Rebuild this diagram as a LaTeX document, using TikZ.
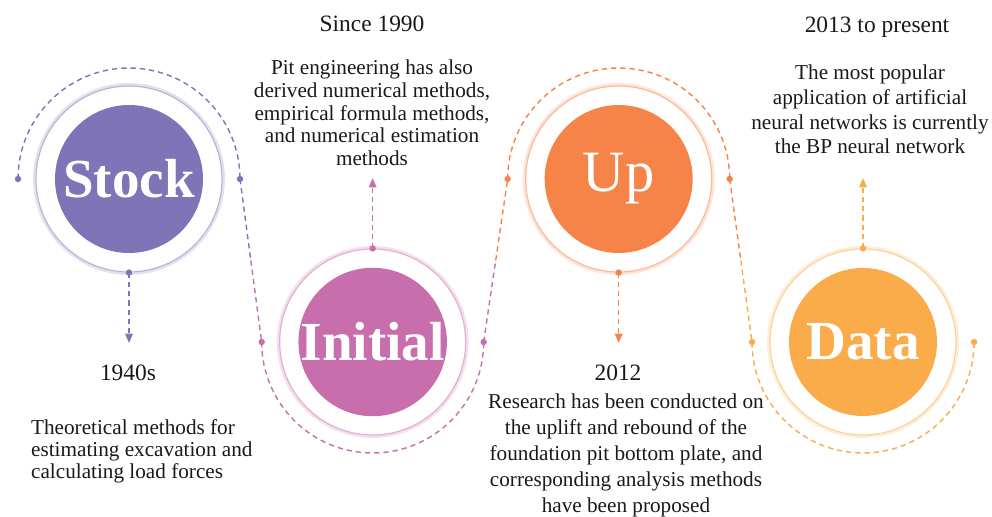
\documentclass[tikz,border=0pt]{standalone}
\usepackage{fontspec}
\setmainfont{Liberation Serif}
\usetikzlibrary{arrows.meta}

\definecolor{stockc}{RGB}{127,116,184}
\definecolor{initc}{RGB}{200,110,172}
\definecolor{upc}{RGB}{246,131,72}
\definecolor{datac}{RGB}{250,172,74}
\definecolor{txt}{RGB}{25,25,25}

\tikzset{
  glow/.style={circle, draw=#1!22, line width=5pt, minimum size=5.58cm, inner sep=0pt},
  ring/.style={circle, fill=white, draw=#1!55, line width=1pt, minimum size=5.58cm, inner sep=0pt},
  disc/.style={circle, fill=#1, minimum size=4.44cm, inner sep=0pt, text=white, font=\fontsize{47}{47}\selectfont\bfseries},
  dot/.style={circle, fill=#1, inner sep=0pt, minimum size=5.5pt},
  trail/.style={draw=#1, dash pattern=on 4.5pt off 3.4pt, line width=1.2pt},
  pointer/.style={trail=#1, -{Triangle[length=8pt,width=6.5pt]}},
  year/.style={text=txt, font=\fontsize{20}{24}\selectfont},
  story/.style={text=txt, align=center, font=\fontsize{18.1}{#1}\selectfont},
}

\begin{document}
\begin{tikzpicture}
\useasboundingbox (0,0) rectangle (29.76,-15.51);
% trail points
\coordinate (C1L) at (0.54,-5.37);
\coordinate (C1R) at (7.20,-5.37);
\coordinate (C2L) at (7.85,-10.26);
\coordinate (C2R) at (14.51,-10.26);
\coordinate (C3L) at (15.23,-5.37);
\coordinate (C3R) at (21.89,-5.37);
\coordinate (C4L) at (22.56,-10.26);
\coordinate (C4R) at (29.22,-10.26);
\coordinate (M12) at (7.525,-7.815);
\coordinate (M23) at (14.87,-7.815);
\coordinate (M34) at (22.225,-7.815);
\coordinate (A1) at (3.87,-10.29);
\coordinate (A2) at (11.18,-5.34);
\coordinate (A3) at (18.56,-10.29);
\coordinate (A4) at (25.89,-5.34);
% dashed trail
\draw[trail=stockc] (C1L) arc[start angle=180, end angle=0, radius=3.33];
\draw[trail=stockc] (C1R) -- (M12);
\draw[trail=initc] (M12) -- (C2L);
\draw[trail=initc] (C2L) arc[start angle=180, end angle=360, radius=3.33];
\draw[trail=initc] (C2R) -- (M23);
\draw[trail=upc] (M23) -- (C3L);
\draw[trail=upc] (C3L) arc[start angle=180, end angle=0, radius=3.33];
\draw[trail=upc] (C3R) -- (M34);
\draw[trail=datac] (M34) -- (C4L);
\draw[trail=datac] (C4L) arc[start angle=180, end angle=360, radius=3.33];
% circles
\node[glow=stockc] (G1) at (3.87,-5.37) {};
\node[ring=stockc] (C1) at (3.87,-5.37) {};
\node[disc=stockc] (D1) at (3.87,-5.37) {Stock};
\node[glow=initc] (G2) at (11.18,-10.26) {};
\node[ring=initc] (C2) at (11.18,-10.26) {};
\node[disc=initc] (D2) at (11.18,-10.26) {Initial};
\node[glow=upc] (G3) at (18.56,-5.37) {};
\node[ring=upc] (C3) at (18.56,-5.37) {};
\node[disc=upc, font=\fontsize{50}{50}\selectfont] (D3) at (18.56,-5.37) {Up};
\node[glow=datac] (G4) at (25.89,-10.26) {};
\node[ring=datac] (C4) at (25.89,-10.26) {};
\node[disc=datac] (D4) at (25.89,-10.26) {Data};
% pointers
\draw[pointer=stockc] (C1.south) -- (A1);
\draw[pointer=initc] (C2.north) -- (A2);
\draw[pointer=upc] (C3.south) -- (A3);
\draw[pointer=datac] (C4.north) -- (A4);
% dots
\node[dot=stockc] (P1) at (C1L) {};
\node[dot=stockc] (P2) at (C1R) {};
\node[dot=stockc] (P3) at (C1.south) {};
\node[dot=initc] (P4) at (C2L) {};
\node[dot=initc] (P5) at (C2R) {};
\node[dot=initc] (P6) at (C2.north) {};
\node[dot=upc] (P7) at (C3L) {};
\node[dot=upc] (P8) at (C3R) {};
\node[dot=upc] (P9) at (C3.south) {};
\node[dot=datac] (P10) at (C4L) {};
\node[dot=datac] (P11) at (C4R) {};
\node[dot=datac] (P12) at (C4.north) {};
% texts
\node[year] (Y1) at (3.84,-11.19) {1940s};
\node[story=18.8, align=left, anchor=west] (T1) at (0.81,-13.53) {Theoretical methods for\\estimating excavation and\\calculating load forces};
\node[year] (Y2) at (11.16,-0.72) {Since 1990};
\node[story=19.4] (T2) at (11.16,-3.39) {Pit engineering has also\\derived numerical methods,\\empirical formula methods,\\and numerical estimation\\methods};
\node[year] (Y3) at (18.54,-11.19) {2012};
\node[story=22.2] (T3) at (18.78,-13.65) {Research has been conducted on\\the uplift and rebound of the\\foundation pit bottom plate, and\\corresponding analysis methods\\have been proposed};
\node[year] (Y4) at (26.31,-0.81) {2013 to present};
\node[story=21.1] (T4) at (26.1,-3.29) {The most popular\\application of artificial\\neural networks is currently\\the BP neural network};
\end{tikzpicture}
\end{document}
